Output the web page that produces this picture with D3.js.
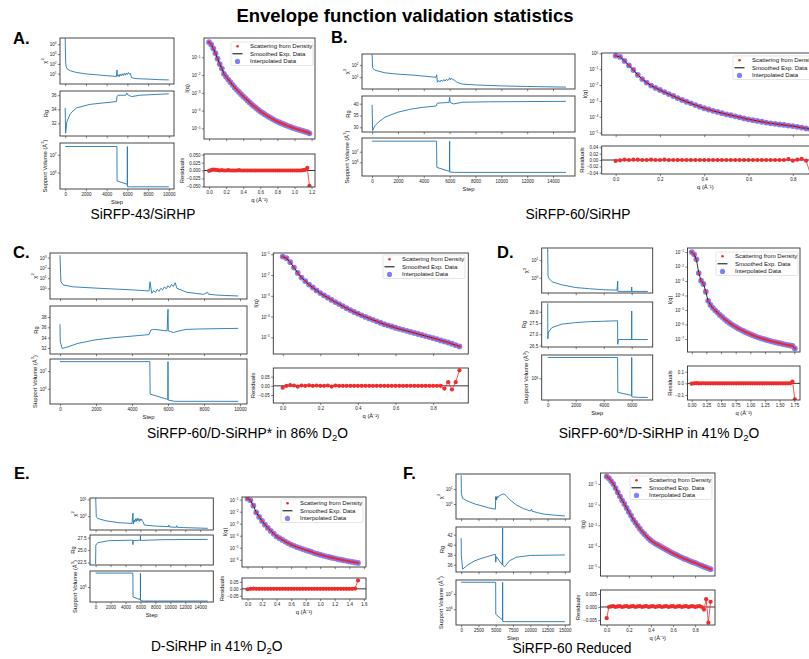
<!DOCTYPE html>
<html>
<head>
<meta charset="utf-8">
<script src="https://d3js.org/d3.v7.min.js"></script>
<style>
  body { margin: 0; background: #fff; }
  svg { font-family: "Liberation Sans", Arial, sans-serif; }
</style>
</head>
<body>
<svg id="fig" width="809" height="659"></svg>
<script>
// ---------- values ----------
// [step, value] pairs for the left-hand stacks
var chiA = [[0,40000],[40,200],[80,60],[200,30],[500,20],[1000,14],[2000,9.5],[3000,7.8],[4000,6.3],[4950,5.2],[5000,24],[5020,5.5],[5100,8],[5200,5],[5300,9],[5400,6],[5500,10],[5600,6.5],[5700,11],[5800,7],[5900,12],[6000,8],[6100,13],[6200,9],[6300,11],[6400,4],[6600,3.4],[7000,3.1],[8000,2.8],[9000,2.5],[10000,2.3]];
var rgA = [[0,34.2],[40,30.6],[160,32.2],[500,33.4],[1100,34.2],[2400,34.7],[4950,35.1],[5000,35.8],[5100,36.0],[5850,36.0],[5950,36.3],[6000,36.1],[6400,35.8],[7200,36.0],[10000,36.2]];
var volA = [[0,2.9e7],[4990,2.9e7],[5010,3.4e5],[5990,2.2e5],[6000,2.9e7],[6010,1.6e5],[6400,1.6e5],[10000,1.6e5]];

var chiB = [[0,700],[40,60],[200,38],[1000,23],[2000,18],[3000,15.5],[4000,12.5],[4950,10],[5000,16],[5050,4],[5150,5.5],[5250,4.2],[5350,6],[5450,4.6],[5550,6.5],[5650,5],[5750,7],[5850,5.5],[5950,8],[6000,9],[6050,6],[6150,8.5],[6250,6.5],[6350,6],[6600,3.8],[7000,2.8],[8000,2.4],[10000,2.0],[12000,1.8],[15000,1.6]];
var rgB = [[0,39.5],[40,28.6],[200,30.5],[500,32.2],[1000,34.3],[2000,36.4],[3000,37.7],[4000,38.5],[4950,39.0],[5050,40.2],[5500,40.4],[5950,40.5],[6000,42.7],[6050,40.5],[6300,39.9],[7000,40.6],[9000,40.8],[15000,41.0]];
var volB = [[0,9.8e7],[4990,9.8e7],[5010,3.3e5],[5990,1.4e5],[6000,9.8e7],[6010,1.2e5],[6400,1.12e5],[15000,1.12e5]];

var chiC = [[0,1700],[50,4.4],[190,2.1],[740,1.4],[2230,1.0],[4080,0.7],[4950,0.55],[5000,4.4],[5100,0.33],[5200,0.6],[5300,0.4],[5400,0.8],[5500,0.5],[5600,1.0],[5700,0.7],[5800,1.4],[5900,0.9],[6000,1.8],[6100,1.2],[6200,2.4],[6300,1.5],[6400,3.5],[6500,1.0],[7050,0.41],[7980,0.26],[8200,0.41],[8250,0.27],[8700,0.22],[9900,0.18]];
var rgC = [[0,36.6],[15,33.2],[120,31.9],[500,32.3],[1000,32.9],[2000,33.6],[3000,34.0],[4000,34.3],[4950,34.6],[5050,35.5],[5200,35.6],[5500,35.5],[5950,35.3],[6000,39.5],[6020,35.3],[6300,35.0],[6600,35.3],[7000,35.6],[8000,35.7],[9900,35.8]];
var volC = [[0,3.4e7],[4990,3.4e7],[5010,5e5],[5990,2.5e5],[6000,3.4e7],[6010,2.3e5],[6400,1.95e5],[9900,1.95e5]];

var chiD = [[0,45],[20,1.4],[60,1.0],[300,0.6],[1000,0.4],[2000,0.28],[3000,0.24],[4000,0.21],[4950,0.2],[5000,0.65],[5010,0.17],[5990,0.17],[6000,0.3],[6010,0.17],[7150,0.17]];
var rgD = [[0,28.37],[10,26.8],[50,27.1],[300,27.3],[1000,27.45],[2000,27.52],[3000,27.56],[4000,27.58],[4990,27.6],[5000,26.56],[5050,26.77],[5990,26.77],[6000,28.03],[6010,26.77],[7150,26.77]];
var volD = [[0,2.8e6],[4990,2.8e6],[5010,5e5],[5990,4.3e5],[6000,2.8e6],[6010,4e5],[6500,3.9e5],[7150,3.9e5]];

var chiE = [[0,20],[90,0.9],[300,0.73],[1400,0.53],[3130,0.41],[4870,0.37],[5000,1.55],[5050,0.34],[5150,0.6],[5250,0.45],[5350,0.7],[5450,0.5],[5550,0.75],[5650,0.55],[5750,0.72],[5850,0.5],[5950,0.7],[6050,0.55],[6150,0.68],[6250,0.5],[6400,0.45],[6500,0.3],[7900,0.26],[9750,0.24],[9800,0.3],[9850,0.23],[10800,0.22],[10850,0.27],[10900,0.22],[11800,0.21],[15000,0.19]];
var rgE = [[0,22.2],[30,26.0],[300,26.5],[1800,26.9],[4950,27.0],[5000,26.1],[5030,26.9],[5990,27.0],[6000,27.9],[6010,26.95],[9000,27.1],[15000,27.15]];
var volE = [[0,6.6e6],[4990,6.6e6],[5010,2.6e5],[5990,1.8e5],[6000,6.6e6],[6010,1.6e5],[6400,1.5e5],[15000,1.5e5]];

var chiF = [[0,80],[30,5],[200,2.4],[1000,1.5],[2000,1.0],[3000,0.75],[4000,0.55],[4950,0.45],[5000,3.1],[5050,1.8],[5100,3.0],[5150,2.0],[5200,3.2],[5300,2.6],[5500,3.5],[5800,4.2],[6000,4.4],[6200,4.7],[6500,3.6],[7000,2.0],[8000,0.85],[9000,0.5],[10000,0.34],[10200,0.45],[10250,0.33],[11000,0.27],[12000,0.21],[13500,0.18],[15000,0.16]];
var rgF = [[0,41.3],[20,38],[200,35.1],[1000,36.0],[2000,36.8],[3000,37.3],[4000,37.7],[4950,38.1],[5000,36.5],[5100,37.6],[5500,36.8],[5950,36.0],[6000,43.3],[6020,35.9],[6300,35.6],[7000,36.8],[8000,37.5],[10000,37.85],[15000,37.95]];
var volF = [[0,5.9e7],[4990,5.9e7],[5010,4.7e5],[5990,2e5],[6000,5.9e7],[6010,1.6e5],[6400,1.55e5],[15000,1.55e5]];

// scattering curves: q, log10 I(q), residuals
var qA = [0,0.025,0.05,0.075,0.1,0.125,0.15,0.175,0.2,0.225,0.25,0.275,0.3,0.325,0.35,0.375,0.4,0.425,0.45,0.475,0.5,0.525,0.55,0.575,0.6,0.625,0.65,0.675,0.7,0.725,0.75,0.775,0.8,0.825,0.85,0.875,0.9,0.925,0.95,0.975,1.0,1.025,1.05,1.075,1.1,1.125,1.15,1.175];
var logIqA = [-0.15,-0.27,-0.5,-0.77,-1.08,-1.38,-1.63,-1.93,-2.1,-2.25,-2.4,-2.55,-2.7,-2.83,-2.95,-3.08,-3.2,-3.31,-3.43,-3.54,-3.65,-3.75,-3.85,-3.95,-4.05,-4.12,-4.2,-4.28,-4.35,-4.42,-4.49,-4.56,-4.62,-4.67,-4.72,-4.77,-4.82,-4.87,-4.91,-4.96,-5.0,-5.04,-5.08,-5.11,-5.15,-5.19,-5.22,-5.28];
var resA = [-0.001,0.001,0.003,0.002,0.001,0,0.001,0,0,0.001,0,0,0,0,0.001,0,0,0,0,0,0,0,0,0,0,0,0,0,0,0,0,0,0,0,0,0,0,0,0,0,0,0,0,0,0.001,0.002,0.008,-0.048];

var qB = [0,0.02,0.04,0.06,0.08,0.1,0.12,0.14,0.16,0.18,0.2,0.22,0.24,0.26,0.28,0.3,0.32,0.34,0.36,0.38,0.4,0.42,0.44,0.46,0.48,0.5,0.52,0.54,0.56,0.58,0.6,0.62,0.64,0.66,0.68,0.7,0.72,0.74,0.76,0.78,0.8,0.82,0.84,0.86,0.88];
var logIqB = [-0.15,-0.23,-0.48,-0.76,-1.05,-1.36,-1.62,-1.84,-2.03,-2.18,-2.31,-2.44,-2.57,-2.69,-2.82,-2.94,-3.05,-3.15,-3.26,-3.36,-3.46,-3.54,-3.62,-3.69,-3.77,-3.84,-3.9,-3.97,-4.03,-4.1,-4.16,-4.21,-4.26,-4.31,-4.36,-4.41,-4.44,-4.48,-4.51,-4.55,-4.58,-4.63,-4.68,-4.73,-4.78];
var resB = [-0.003,-0.001,0.001,0,0.001,0.001,0,0,0.001,0,0,0.001,0,0,0,0,0,0,0,0,0,0,0,0,0,0,0,0,0,0,0,0,0,0,0,0,0,0,0,0.003,-0.002,0.001,0.004,-0.002,-0.045];

var qC = [0,0.02,0.04,0.06,0.08,0.1,0.12,0.14,0.16,0.18,0.2,0.22,0.24,0.26,0.28,0.3,0.32,0.34,0.36,0.38,0.4,0.42,0.44,0.46,0.48,0.5,0.52,0.54,0.56,0.58,0.6,0.62,0.64,0.66,0.68,0.7,0.72,0.74,0.76,0.78,0.8,0.82,0.84,0.86,0.88,0.9,0.92,0.94];
var logIqC = [-1.11,-1.19,-1.38,-1.64,-1.9,-2.12,-2.29,-2.46,-2.6,-2.74,-2.87,-2.98,-3.09,-3.2,-3.3,-3.4,-3.5,-3.6,-3.69,-3.78,-3.86,-3.94,-4.02,-4.09,-4.16,-4.23,-4.3,-4.37,-4.43,-4.48,-4.54,-4.59,-4.64,-4.69,-4.74,-4.79,-4.84,-4.89,-4.94,-4.99,-5.04,-5.09,-5.15,-5.2,-5.25,-5.31,-5.38,-5.44];
var resC = [-0.01,0,0.004,0.002,-0.004,0.002,0,0.003,0,0.002,0,0,0.002,-0.004,0.002,0,0,0,0,0,0,0,0,0,0,0,0,0,0,0,0,0,0,0,0,0,0,0,0,0,0,0,0,-0.015,0.02,-0.02,0.02,0.085];

var qD = [0,0.04,0.08,0.12,0.16,0.2,0.24,0.28,0.32,0.36,0.4,0.44,0.48,0.52,0.56,0.6,0.64,0.68,0.72,0.76,0.8,0.84,0.88,0.92,0.96,1.0,1.04,1.08,1.12,1.16,1.2,1.24,1.28,1.32,1.36,1.4,1.44,1.48,1.52,1.56,1.6,1.64,1.68,1.72,1.76];
var logIqD = [-1.0,-1.16,-1.5,-2.45,-2.98,-3.2,-3.74,-4.37,-4.65,-4.85,-5.02,-5.18,-5.34,-5.48,-5.63,-5.76,-5.88,-5.99,-6.09,-6.19,-6.29,-6.37,-6.45,-6.53,-6.6,-6.67,-6.74,-6.81,-6.87,-6.92,-6.97,-7.02,-7.07,-7.11,-7.16,-7.2,-7.24,-7.28,-7.31,-7.35,-7.39,-7.42,-7.45,-7.48,-7.65];
var resD = [-0.003,0,0.002,0,0,0.001,0,0,0,0,0,0,0,0,0,0,0,0,0,0,0,0,0,0,0,0,0,0,0,0,0,0,0,0,0,0,0,0,0,0,0,0,0,0.015,-0.137];

var qE = [0,0.04,0.08,0.12,0.16,0.2,0.24,0.28,0.32,0.36,0.4,0.44,0.48,0.52,0.56,0.6,0.64,0.68,0.72,0.76,0.8,0.84,0.88,0.92,0.96,1.0,1.04,1.08,1.12,1.16,1.2,1.24,1.28,1.32,1.36,1.4,1.44,1.48,1.52];
var logIqE = [-0.92,-1.06,-1.5,-2.06,-2.44,-2.77,-3.08,-3.35,-3.6,-3.83,-4.06,-4.2,-4.35,-4.49,-4.62,-4.74,-4.84,-4.94,-5.03,-5.11,-5.19,-5.27,-5.35,-5.44,-5.51,-5.58,-5.65,-5.71,-5.77,-5.83,-5.88,-5.94,-5.99,-6.04,-6.09,-6.14,-6.18,-6.22,-6.26];
var resE = [-0.003,0,0.001,0,0,0,0,0,0,0,0,0,0,0,0,0,0,0,0,0,0,0,0,0,0,0,0,0,0,0,0,0,0,0,0,0,0,0.002,0.06];

var qF = [0,0.02,0.04,0.06,0.08,0.1,0.12,0.14,0.16,0.18,0.2,0.22,0.24,0.26,0.28,0.3,0.32,0.34,0.36,0.38,0.4,0.42,0.44,0.46,0.48,0.5,0.52,0.54,0.56,0.58,0.6,0.62,0.64,0.66,0.68,0.7,0.72,0.74,0.76,0.78,0.8,0.82,0.84,0.86,0.88,0.9,0.92,0.94];
var logIqF = [-0.64,-0.72,-0.86,-1.0,-1.2,-1.4,-1.6,-1.79,-1.97,-2.16,-2.35,-2.53,-2.72,-2.87,-3.02,-3.16,-3.3,-3.42,-3.53,-3.64,-3.73,-3.81,-3.88,-3.94,-4.0,-4.06,-4.12,-4.18,-4.24,-4.3,-4.36,-4.41,-4.46,-4.51,-4.56,-4.61,-4.65,-4.69,-4.74,-4.78,-4.82,-4.86,-4.91,-4.95,-5.0,-5.04,-5.08,-5.12];
var resF = [-0.0043,0,0.0002,0.0003,0,0.0002,0.0003,0,0.0002,0.0003,0,0.0002,0.0003,0,0.0002,0.0003,0,0.0002,0.0003,0,0.0002,0.0003,0,0.0002,0.0003,0,0.0002,0.0003,0,0.0002,0.0003,0,0.0002,0.0003,0,0.0002,0.0003,0,0.0002,0.0003,0,0.0002,0.0003,0,-0.001,0.003,-0.006,0.002];

// tick labels
var stepTicks10k = [0,2000,4000,6000,8000,10000];
var stepTicks14k = [0,2000,4000,6000,8000,10000,12000,14000];
var stepTicks6k = [0,2000,4000,6000];
var stepTicks15k = [0,2500,5000,7500,10000,12500,15000];
var legendItems = ["Scattering from Density", "Smoothed Exp. Data", "Interpolated Data"];

// ---------- layout of each panel (pixels / axis limits) ----------
var panels = [
  { tag: "A.", tx: 13, ty: 43.5, title: ["SiRFP-43/SiRHP"], cx: 143, cy: 218.5,
    left: 60, right: 174, stepDom: [-500, 10500], stepTicks: stepTicks10k,
    chiBox: [38, 84], chiDom: [-0.05, 4.64], chiTicks: [1, 2, 3, 4], chi: chiA,
    rgBox: [91, 136], rgDom: [30.2, 36.6], rgTicks: [32, 34, 36], rgFmt: "d", rg: rgA,
    volBox: [143, 189], volDom: [5.08, 7.66], volTicks: [6, 7], vol: volA,
    qL: 204, qR: 315, qDom: [-0.059, 1.24], qTicks: [0, 0.2, 0.4, 0.6, 0.8, 1.0, 1.2], qFmt: ".1f",
    iqBox: [38, 139], iqDom: [-5.6, 0.09], iqTicks: [-5, -4, -3, -2, -1],
    resBox: [154, 187], resDom: [-0.052, 0.052], resTicks: [-0.05, -0.025, 0, 0.025, 0.05], resFmt: ".3f",
    leg: [231, 42], q: qA, iq: logIqA, res: resA },
  { tag: "B.", tx: 331, ty: 42.5, title: ["SiRFP-60/SiRHP"], cx: 578, cy: 218.5,
    left: 362, right: 575, stepDom: [-780, 15700], stepTicks: stepTicks14k,
    chiBox: [54, 89], chiDom: [0.05, 2.89], chiTicks: [1, 2], chi: chiB,
    rgBox: [96, 132], rgDom: [28.0, 43.26], rgTicks: [30, 35, 40], rgFmt: "d", rg: rgB,
    volBox: [138, 176], volDom: [4.71, 8.29], volTicks: [6, 7], vol: volB,
    qL: 601.7, qR: 830, qDom: [-0.063, 0.968], qTicks: [0, 0.2, 0.4, 0.6, 0.8], qFmt: ".1f",
    iqBox: [53, 135], iqDom: [-5.145, 0.02], iqTicks: [-5, -4, -3, -2, -1, 0],
    resBox: [146, 174], resDom: [-0.0441, 0.0441], resTicks: [-0.04, -0.02, 0, 0.02, 0.04], resFmt: ".2f",
    leg: [733, 56], q: qB, iq: logIqB, res: resB },
  { tag: "C.", tx: 13, ty: 258.3, title: ["SiRFP-60/D-SiRHP* in 86% D", "2", "O"], cx: 247.5, cy: 437.5,
    left: 50, right: 247, stepDom: [-556, 10390], stepTicks: stepTicks10k,
    chiBox: [253, 299], chiDom: [-1.04, 3.45], chiTicks: [0, 1, 2, 3], chi: chiC,
    rgBox: [306, 354], rgDom: [30.84, 40.13], rgTicks: [32, 34, 36, 38], rgFmt: "d", rg: rgC,
    volBox: [359, 404], volDom: [5.14, 7.68], volTicks: [6, 7], vol: volC,
    qL: 273.3, qR: 468.3, qDom: [-0.05, 0.987], qTicks: [0, 0.2, 0.4, 0.6, 0.8], qFmt: ".1f",
    iqBox: [253, 354], iqDom: [-5.805, -0.937], iqTicks: [-5, -4, -3, -2, -1],
    resBox: [368, 403], resDom: [-0.0937, 0.0975], resTicks: [-0.05, 0, 0.05], resFmt: ".2f",
    leg: [383, 255], q: qC, iq: logIqC, res: resC },
  { tag: "D.", tx: 497, ty: 258.3, title: ["SiRFP-60*/D-SiRHP in 41% D", "2", "O"], cx: 659, cy: 437.5,
    left: 541.7, right: 652.7, stepDom: [-430, 7500], stepTicks: stepTicks6k,
    chiBox: [248, 293], chiDom: [-0.86, 1.68], chiTicks: [0, 1], chi: chiD,
    rgBox: [302, 347], rgDom: [26.44, 28.43], rgTicks: [26.5, 27.0, 27.5, 28.0], rgFmt: ".1f", rg: rgD,
    volBox: [355, 400], volDom: [5.535, 6.5], volTicks: [6], vol: volD,
    qL: 687.5, qR: 800, qDom: [-0.072, 1.848], qTicks: [0, 0.25, 0.5, 0.75, 1.0, 1.25, 1.5, 1.75], qFmt: ".2f",
    iqBox: [248, 352], iqDom: [-7.9, -0.72], iqTicks: [-7, -6, -5, -4, -3, -2, -1],
    resBox: [366, 400], resDom: [-0.143, 0.149], resTicks: [-0.1, 0, 0.1], resFmt: ".1f",
    leg: [716, 252], q: qD, iq: logIqD, res: resD },
  { tag: "E.", tx: 14, ty: 479.3, title: ["D-SiRHP in 41% D", "2", "O"], cx: 216.7, cy: 650.7,
    left: 90, right: 213.3, stepDom: [-750, 15750], stepTicks: stepTicks14k,
    chiBox: [498, 530], chiDom: [-0.82, 1.08], chiTicks: [0, 1], chi: chiE,
    rgBox: [535, 565], rgDom: [22.0, 28.04], rgTicks: [22.5, 25.0, 27.5], rgFmt: ".1f", rg: rgE,
    volBox: [571, 602], volDom: [5.12, 6.94], volTicks: [6], vol: volE,
    qL: 242, qR: 366, qDom: [-0.076, 1.63], qTicks: [0, 0.2, 0.4, 0.6, 0.8, 1.0, 1.2, 1.4, 1.6], qFmt: ".1f",
    iqBox: [497, 567], iqDom: [-6.6, -0.78], iqTicks: [-6, -5, -4, -3, -2, -1],
    resBox: [578, 599], resDom: [-0.073, 0.078], resTicks: [-0.05, 0, 0.05], resFmt: ".2f",
    leg: [281, 499], q: qE, iq: logIqE, res: resE },
  { tag: "F.", tx: 403, ty: 479.3, title: ["SiRFP-60 Reduced"], cx: 572, cy: 652.7,
    left: 456, right: 570, stepDom: [-750, 15750], stepTicks: stepTicks15k,
    chiBox: [474, 519], chiDom: [-1.0, 2.0], chiTicks: [0, 1], chi: chiF,
    rgBox: [527, 572], rgDom: [34.54, 43.54], rgTicks: [36, 38, 40, 42], rgFmt: "d", rg: rgF,
    volBox: [580, 625], volDom: [4.97, 7.92], volTicks: [6, 7], vol: volF,
    qL: 600.5, qR: 715, qDom: [-0.056, 0.98], qTicks: [0, 0.2, 0.4, 0.6, 0.8], qFmt: ".1f",
    iqBox: [473, 576], iqDom: [-5.45, -0.47], iqTicks: [-5, -4, -3, -2, -1],
    resBox: [590, 625], resDom: [-0.0069, 0.0065], resTicks: [-0.005, 0, 0.005], resFmt: ".3f",
    leg: [630, 476], q: qF, iq: logIqF, res: resF }
];

var svg = d3.select("#fig");
var tickFont = 4.5, labFont = 5.8, legFont = 6;
var blue = "#1f77b4", red = "#f02b2b", lilac = "#8080ff", frameCol = "#333";

svg.append("text").attr("x", 405).attr("y", 22).attr("text-anchor", "middle")
  .style("font-size", "18.5px").style("font-weight", "bold").text("Envelope function validation statistics");

var clipCount = 0;
function clipRect(x0, x1, y0, y1) {
  var id = "c" + (clipCount++);
  svg.append("clipPath").attr("id", id).append("rect")
    .attr("x", x0).attr("y", y0).attr("width", x1 - x0).attr("height", y1 - y0);
  return "url(#" + id + ")";
}

function frame(x0, x1, y0, y1) {
  svg.append("rect").attr("x", x0).attr("y", y0).attr("width", x1 - x0).attr("height", y1 - y0)
    .attr("fill", "none").attr("stroke", frameCol).attr("stroke-width", 0.9);
}

function styleAxis(g) {
  g.select(".domain").remove();
  g.selectAll(".tick line").attr("stroke", frameCol).attr("stroke-width", 0.6);
  g.selectAll(".tick text").attr("fill", "#222").style("font-size", tickFont + "px");
}

function powLabels(g) {
  g.selectAll(".tick text").each(function(d) {
    var e = Math.round(Math.log10(d));
    var t = d3.select(this).text("");
    t.append("tspan").text("10");
    t.append("tspan").attr("dy", "-0.55em").style("font-size", "3.2px")
      .text(e < 0 ? "\u2212" + (-e) : String(e));
  });
}

function yLabel(axisG, x0, y0, y1, parts) {
  var bb = axisG.node().getBBox();
  var x = x0 + bb.x - 3;
  var t = svg.append("text").attr("transform", "translate(" + x + "," + ((y0 + y1) / 2) + ") rotate(-90)")
    .attr("text-anchor", "middle").style("font-size", labFont + "px").attr("fill", "#111");
  parts.forEach(function(p, i) {
    var s = t.append("tspan").text(p);
    if (i % 2 === 1) s.attr("dy", -2.5).style("font-size", (labFont * 0.7) + "px");
    else if (i > 0) s.attr("dy", 2.5);
  });
}

function leftAxis(scale, x0, ticks, fmt, isLog) {
  var ax = d3.axisLeft(scale).tickValues(ticks).tickSize(2.2).tickPadding(1.3)
    .tickFormat(isLog ? function() { return ""; } : d3.format(fmt));
  var g = svg.append("g").attr("transform", "translate(" + x0 + ",0)").call(ax);
  styleAxis(g);
  if (isLog) powLabels(g);
  return g;
}

function bottomAxis(scale, y, ticks, fmt) {
  var ax = d3.axisBottom(scale).tickValues(ticks).tickSize(2.2).tickPadding(1.2)
    .tickFormat(fmt ? d3.format(fmt) : function() { return ""; });
  var g = svg.append("g").attr("transform", "translate(0," + y + ")").call(ax);
  styleAxis(g);
  return g;
}

function legend(x, y) {
  svg.append("rect").attr("x", x).attr("y", y).attr("width", 82).attr("height", 23.5).attr("rx", 1.5)
    .attr("fill", "#fff").attr("fill-opacity", 0.85).attr("stroke", "#d4d4d4").attr("stroke-width", 0.6);
  legendItems.forEach(function(txt, i) {
    var yy = y + 4.2 + i * 7.6;
    if (i === 0) svg.append("circle").attr("cx", x + 6.5).attr("cy", yy).attr("r", 1.3).attr("fill", red);
    if (i === 1) svg.append("line").attr("x1", x + 1.5).attr("x2", x + 11.5).attr("y1", yy).attr("y2", yy)
      .attr("stroke", "#000").attr("stroke-width", 1);
    if (i === 2) svg.append("circle").attr("cx", x + 6.5).attr("cy", yy).attr("r", 2.6).attr("fill", lilac);
    svg.append("text").attr("x", x + 19).attr("y", yy + 2).style("font-size", legFont + "px")
      .attr("fill", "#111").text(txt);
  });
}

function drawPanel(p) {
  svg.append("text").attr("x", p.tx).attr("y", p.ty).style("font-size", "16.5px")
    .style("font-weight", "bold").text(p.tag);
  var t = svg.append("text").attr("x", p.cx).attr("y", p.cy).attr("text-anchor", "middle").style("font-size", "13.8px");
  p.title.forEach(function(s, i) {
    var ts = t.append("tspan").text(s);
    if (i === 1) ts.attr("dy", 3).style("font-size", "9.5px");
    if (i === 2) ts.attr("dy", -3);
  });

  // left column: chi2, Rg, support volume vs step
  var sx = d3.scaleLinear().domain(p.stepDom).range([p.left, p.right]);
  var rows = [
    { box: p.chiBox, dom: p.chiDom, ticks: p.chiTicks, log: true, data: p.chi, lab: ["\u03c7", "2"] },
    { box: p.rgBox, dom: p.rgDom, ticks: p.rgTicks, log: false, fmt: p.rgFmt, data: p.rg, lab: ["Rg"] },
    { box: p.volBox, dom: p.volDom, ticks: p.volTicks, log: true, data: p.vol, lab: ["Support Volume (\u00c5", "3", ")"] }
  ];
  rows.forEach(function(r, i) {
    var y0 = r.box[0], y1 = r.box[1];
    var sy = r.log
      ? d3.scaleLog().domain([Math.pow(10, r.dom[0]), Math.pow(10, r.dom[1])]).range([y1, y0])
      : d3.scaleLinear().domain(r.dom).range([y1, y0]);
    svg.append("path").datum(r.data).attr("clip-path", clipRect(p.left, p.right, y0, y1))
      .attr("fill", "none").attr("stroke", blue).attr("stroke-width", 0.9).attr("stroke-linejoin", "round")
      .attr("d", d3.line().x(function(d) { return sx(d[0]); }).y(function(d) { return sy(d[1]); }));
    bottomAxis(sx, y1, p.stepTicks, i === 2 ? "d" : null);
    var ticks = r.log ? r.ticks.map(function(e) { return Math.pow(10, e); }) : r.ticks;
    var ya = leftAxis(sy, p.left, ticks, r.fmt, r.log);
    frame(p.left, p.right, y0, y1);
    yLabel(ya, p.left, y0, y1, r.lab);
  });
  svg.append("text").attr("x", (p.left + p.right) / 2).attr("y", p.volBox[1] + 15)
    .attr("text-anchor", "middle").style("font-size", labFont + "px").attr("fill", "#111").text("Step");

  // right column: I(q) and residuals
  var sq = d3.scaleLinear().domain(p.qDom).range([p.qL, p.qR]);
  var b = p.iqBox;
  var sI = d3.scaleLog().domain([Math.pow(10, p.iqDom[0]), Math.pow(10, p.iqDom[1])]).range([b[1], b[0]]);
  var pts = p.q.map(function(q, i) { return [q, Math.pow(10, p.iq[i])]; });
  var cp = clipRect(p.qL, p.qR, b[0], b[1]);
  var gI = svg.append("g").attr("clip-path", cp);
  gI.selectAll(".interp").data(pts).join("circle").attr("class", "interp")
    .attr("cx", function(d) { return sq(d[0]); }).attr("cy", function(d) { return sI(d[1]); })
    .attr("r", 2.9).attr("fill", lilac);
  gI.append("path").datum(pts).attr("fill", "none").attr("stroke", "#000").attr("stroke-width", 0.8)
    .attr("d", d3.line().x(function(d) { return sq(d[0]); }).y(function(d) { return sI(d[1]); }));
  gI.selectAll(".dens").data(pts).join("circle").attr("class", "dens")
    .attr("cx", function(d) { return sq(d[0]); }).attr("cy", function(d) { return sI(d[1]); })
    .attr("r", 1.4).attr("fill", red);
  bottomAxis(sq, b[1], p.qTicks, null);
  var ia = leftAxis(sI, p.qL, p.iqTicks.map(function(e) { return Math.pow(10, e); }), null, true);
  frame(p.qL, p.qR, b[0], b[1]);
  yLabel(ia, p.qL, b[0], b[1], ["I(q)"]);
  legend(p.leg[0], p.leg[1]);

  var rb = p.resBox;
  var sR = d3.scaleLinear().domain(p.resDom).range([rb[1], rb[0]]);
  var rpts = p.q.map(function(q, i) { return [q, p.res[i]]; });
  var gR = svg.append("g").attr("clip-path", clipRect(p.qL, p.qR, rb[0], rb[1]));
  gR.append("line").attr("x1", p.qL).attr("x2", p.qR).attr("y1", sR(0)).attr("y2", sR(0))
    .attr("stroke", "#000").attr("stroke-width", 0.8);
  gR.append("path").datum(rpts).attr("fill", "none").attr("stroke", red).attr("stroke-width", 0.8)
    .attr("d", d3.line().x(function(d) { return sq(d[0]); }).y(function(d) { return sR(d[1]); }));
  gR.selectAll(".res").data(rpts).join("circle").attr("class", "res")
    .attr("cx", function(d) { return sq(d[0]); }).attr("cy", function(d) { return sR(d[1]); })
    .attr("r", 2.1).attr("fill", red);
  bottomAxis(sq, rb[1], p.qTicks, p.qFmt);
  var ra = leftAxis(sR, p.qL, p.resTicks, p.resFmt, false);
  frame(p.qL, p.qR, rb[0], rb[1]);
  yLabel(ra, p.qL, rb[0], rb[1], ["Residuals"]);
  svg.append("text").attr("x", (p.qL + Math.min(p.qR, 809)) / 2).attr("y", rb[1] + 15)
    .attr("text-anchor", "middle").style("font-size", labFont + "px").attr("fill", "#111")
    .text("q (\u00c5\u207b\u00b9)");
}

panels.forEach(drawPanel);
</script>
</body>
</html>
